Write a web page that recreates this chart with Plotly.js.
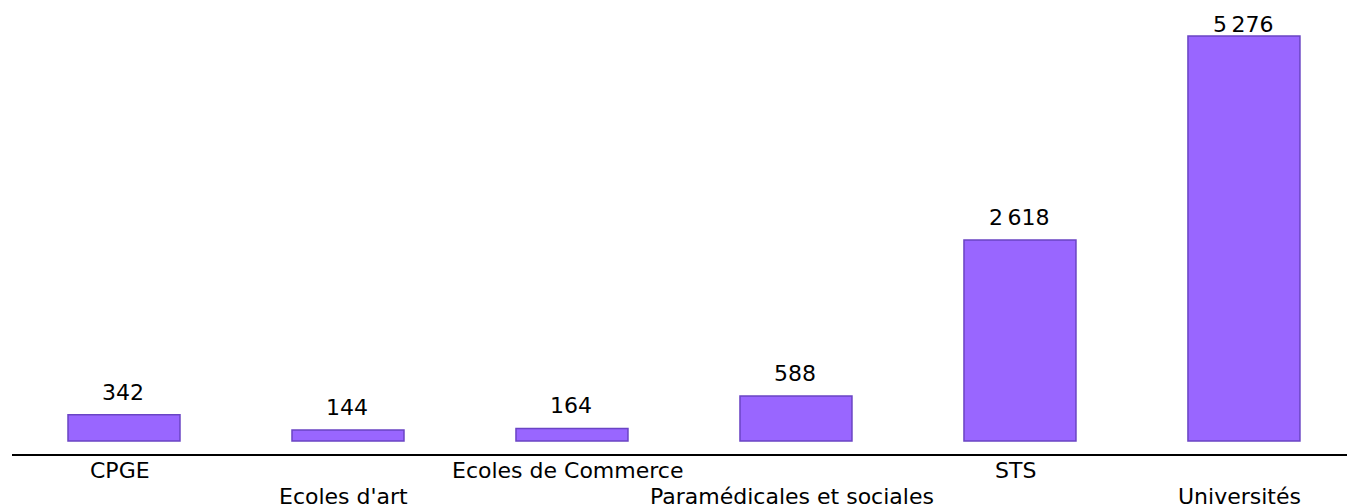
<!DOCTYPE html>
<html>
<head>
<meta charset="utf-8">
<script src="https://cdn.plot.ly/plotly-3.0.1.min.js"></script>
<style>html,body{margin:0;padding:0;background:#fff;}#chart{width:1347px;height:504px;}</style>
</head>
<body>
<div id="chart"></div>
<script>
const categories = ["CPGE", "Ecoles d'art", "Ecoles de Commerce", "Paramédicales et sociales", "STS", "Universités"];
const values = [342, 144, 164, 588, 2618, 5276];

function fmt(v) {
  return String(v).replace(/\B(?=(\d{3})+(?!\d))/g, "\u2009");
}

const FONT = "DejaVu Sans, sans-serif";
const Y_RANGE = [-169, 5745];
const PLOT_H = 454;
const LABEL_H = 30;
const MIN_TOP = 9;

const annotations = [];
categories.forEach((c, i) => {
  // pixel y of bar top inside the plot area, used to keep the label inside the figure
  const barTop = PLOT_H * (1 - (values[i] - Y_RANGE[0]) / (Y_RANGE[1] - Y_RANGE[0]));
  let shift = 8;
  if (barTop - shift - LABEL_H < MIN_TOP) shift = barTop - LABEL_H - MIN_TOP;
  annotations.push({
    x: c, y: values[i], xref: 'x', yref: 'y',
    text: fmt(values[i]), showarrow: false,
    yanchor: 'bottom', yshift: shift, xshift: -1,
    font: {family: FONT, size: 22, color: '#000'}
  });
  annotations.push({
    x: c, y: 0, xref: 'x', yref: 'paper',
    text: c, showarrow: false,
    yanchor: 'top', yshift: (i % 2 === 0) ? -2 : -28, xshift: -4,
    font: {family: FONT, size: 22, color: '#000'}
  });
});

const trace = {
  type: 'bar',
  x: categories,
  y: values,
  marker: {color: '#9966ff', line: {color: '#6a44c4', width: 1.5}},
  hoverinfo: 'none'
};

const layout = {
  width: 1347, height: 504,
  margin: {l: 12, r: 0, t: 0, b: 50, pad: 0},
  paper_bgcolor: '#fff', plot_bgcolor: '#fff',
  bargap: 0.5,
  showlegend: false,
  xaxis: {
    type: 'category', range: [-0.5, 5.46],
    showline: true, linecolor: '#000', linewidth: 2,
    showgrid: false, zeroline: false, ticks: '', showticklabels: false
  },
  yaxis: {
    range: Y_RANGE, visible: false, showgrid: false, zeroline: false
  },
  annotations: annotations
};

Plotly.newPlot('chart', [trace], layout, {displayModeBar: false, staticPlot: true});
</script>
</body>
</html>
